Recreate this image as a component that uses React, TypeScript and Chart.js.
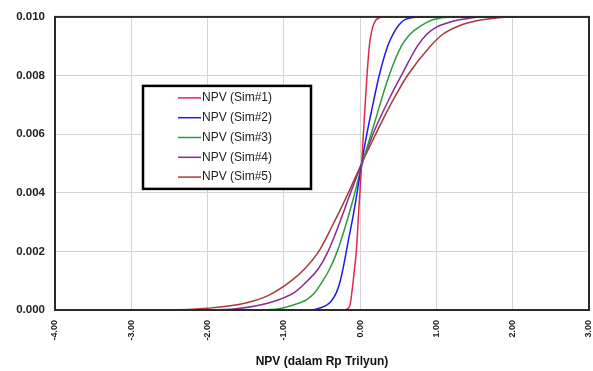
import React, { useEffect, useRef } from "react";
import { Chart, registerables } from "chart.js";

Chart.register(...registerables);

// Cumulative curves: [NPV (Rp Trilyun), value]
const sim1: number[][] = [
  [-4, 0], [-0.25, 0], [-0.17, 0.00003], [-0.13, 0.0002], [-0.11, 0.00057], [-0.09, 0.001],
  [-0.07, 0.0015], [-0.05, 0.002], [-0.02, 0.0033], [0.02, 0.005], [0.056, 0.0066], [0.09, 0.008],
  [0.12, 0.009], [0.15, 0.0095], [0.21, 0.0099], [0.3, 0.01], [3, 0.01],
];
const sim2: number[][] = [
  [-4, 0], [-0.7, 0], [-0.58, 0.00003], [-0.45, 0.00015], [-0.38, 0.0003], [-0.31, 0.0006],
  [-0.26, 0.001], [-0.21, 0.0016], [-0.16, 0.0023], [-0.1, 0.0031], [-0.04, 0.004], [0.02, 0.005],
  [0.08, 0.0059], [0.15, 0.0068], [0.25, 0.008], [0.36, 0.009], [0.45, 0.0095], [0.5, 0.0097],
  [0.58, 0.0099], [0.8, 0.01], [3, 0.01],
];
const sim3: number[][] = [
  [-4, 0], [-1.3, 0], [-1.05, 0.00005], [-0.8, 0.00024], [-0.7, 0.00035], [-0.6, 0.00058],
  [-0.5, 0.00095], [-0.4, 0.0014], [-0.3, 0.002], [-0.2, 0.0028], [-0.1, 0.0037], [0.03, 0.005],
  [0.19, 0.0064], [0.38, 0.008], [0.54, 0.009], [0.65, 0.0094], [0.8, 0.0097], [0.95, 0.0099],
  [1.2, 0.01], [3, 0.01],
];
const sim4: number[][] = [
  [-4, 0], [-2.0, 0], [-1.6, 0.00005], [-1.2, 0.00024], [-0.86, 0.0006], [-0.69, 0.001],
  [-0.55, 0.0014], [-0.42, 0.002], [-0.28, 0.0029], [-0.14, 0.0039], [0.02, 0.005], [0.2, 0.0062],
  [0.38, 0.0072], [0.54, 0.008], [0.75, 0.009], [0.87, 0.0094], [1.0, 0.00965], [1.15, 0.0098],
  [1.3, 0.0099], [1.6, 0.01], [3, 0.01],
];
const sim5: number[][] = [
  [-4, 0], [-2.5, 0], [-2.0, 0.00006], [-1.5, 0.00024], [-1.2, 0.0005], [-0.9, 0.001],
  [-0.71, 0.00145], [-0.53, 0.00205], [-0.36, 0.0029], [-0.19, 0.0038], [0.02, 0.005], [0.28, 0.0064],
  [0.44, 0.0072], [0.62, 0.008], [0.92, 0.009], [1.08, 0.0094], [1.3, 0.0097], [1.6, 0.0099],
  [2.0, 0.01], [3, 0.01],
];

const seriesLabels = ["NPV (Sim#1)", "NPV (Sim#2)", "NPV (Sim#3)", "NPV (Sim#4)", "NPV (Sim#5)"];
const seriesColors = ["#e0284f", "#1c1ce6", "#2e9a3a", "#8b2a8f", "#a83a3a"];
const seriesData = [sim1, sim2, sim3, sim4, sim5];

const xMin = -4;
const xMax = 3;
const yMin = 0;
const yMax = 0.01;
const xTitle = "NPV (dalam Rp Trilyun)";

const frameAndLegend = {
  id: "frameAndLegend",
  afterDraw(chart: any) {
    const { ctx, chartArea } = chart;
    ctx.save();
    ctx.strokeStyle = "#2a2a2a";
    ctx.lineWidth = 2;
    ctx.strokeRect(chartArea.left, chartArea.top, chartArea.right - chartArea.left, chartArea.bottom - chartArea.top);

    // legend box
    const bx = chartArea.left + 88;
    const by = chartArea.top + 69;
    const bw = 168;
    const bh = 103;
    ctx.fillStyle = "#ffffff";
    ctx.fillRect(bx, by, bw, bh);
    ctx.lineWidth = 2.5;
    ctx.strokeStyle = "#000000";
    ctx.strokeRect(bx, by, bw, bh);
    ctx.font = "12px 'Liberation Sans', Arial, sans-serif";
    ctx.textBaseline = "middle";
    ctx.textAlign = "left";
    chart.data.datasets.forEach((ds: any, i: number) => {
      const y = by + 12 + i * 19.8;
      ctx.strokeStyle = ds.borderColor;
      ctx.lineWidth = 1.5;
      ctx.beginPath();
      ctx.moveTo(bx + 35, y);
      ctx.lineTo(bx + 58, y);
      ctx.stroke();
      ctx.fillStyle = "#222222";
      ctx.fillText(ds.label, bx + 59, y);
    });
    ctx.restore();
  },
};

export default function App() {
  const ref = useRef<HTMLCanvasElement | null>(null);
  useEffect(() => {
    if (!ref.current) return;
    const chart = new Chart(ref.current, {
      type: "line",
      data: {
        datasets: seriesData.map((d, i) => ({
          label: seriesLabels[i],
          data: d.map(([x, y]) => ({ x, y })),
          borderColor: seriesColors[i],
          backgroundColor: seriesColors[i],
          borderWidth: 1.5,
          pointRadius: 0,
          cubicInterpolationMode: "monotone" as const,
          fill: false,
        })),
      },
      options: {
        animation: false,
        responsive: true,
        maintainAspectRatio: false,
        layout: { padding: { left: 0, right: 4, top: 15, bottom: 0 } },
        plugins: { legend: { display: false }, tooltip: { enabled: false } },
        scales: {
          x: {
            type: "linear",
            min: xMin,
            max: xMax,
            afterFit: (s: any) => {
              s.height = 61;
              s.paddingLeft = 0;
              s.paddingRight = 0;
            },
            grid: { color: "#d4d4d4", lineWidth: 1, drawTicks: false },
            border: { display: false },
            ticks: {
              stepSize: 1,
              minRotation: 90,
              maxRotation: 90,
              padding: 10,
              color: "#222",
              font: { family: "'Liberation Sans', Arial, sans-serif", size: 9, weight: "bold" },
              callback: (v: any) => Number(v).toFixed(2),
            },
            title: {
              display: true,
              text: xTitle,
              color: "#111",
              padding: { top: 0, bottom: 2 },
              font: { family: "'Liberation Sans', Arial, sans-serif", size: 12, weight: "bold" },
            },
          },
          y: {
            min: yMin,
            max: yMax,
            afterFit: (s: any) => {
              s.width = 55;
            },
            grid: { color: "#d4d4d4", lineWidth: 1, drawTicks: false },
            border: { display: false },
            ticks: {
              stepSize: 0.002,
              padding: 10,
              color: "#222",
              font: { family: "'Liberation Sans', Arial, sans-serif", size: 11.5, weight: "bold" },
              callback: (v: any) => Number(v).toFixed(3),
            },
          },
        },
      },
      plugins: [frameAndLegend],
    });
    return () => chart.destroy();
  }, []);
  return (
    <div style={{ position: "absolute", left: 0, top: 0, width: 593, height: 371, background: "#fff" }}>
      <canvas ref={ref} />
    </div>
  );
}
